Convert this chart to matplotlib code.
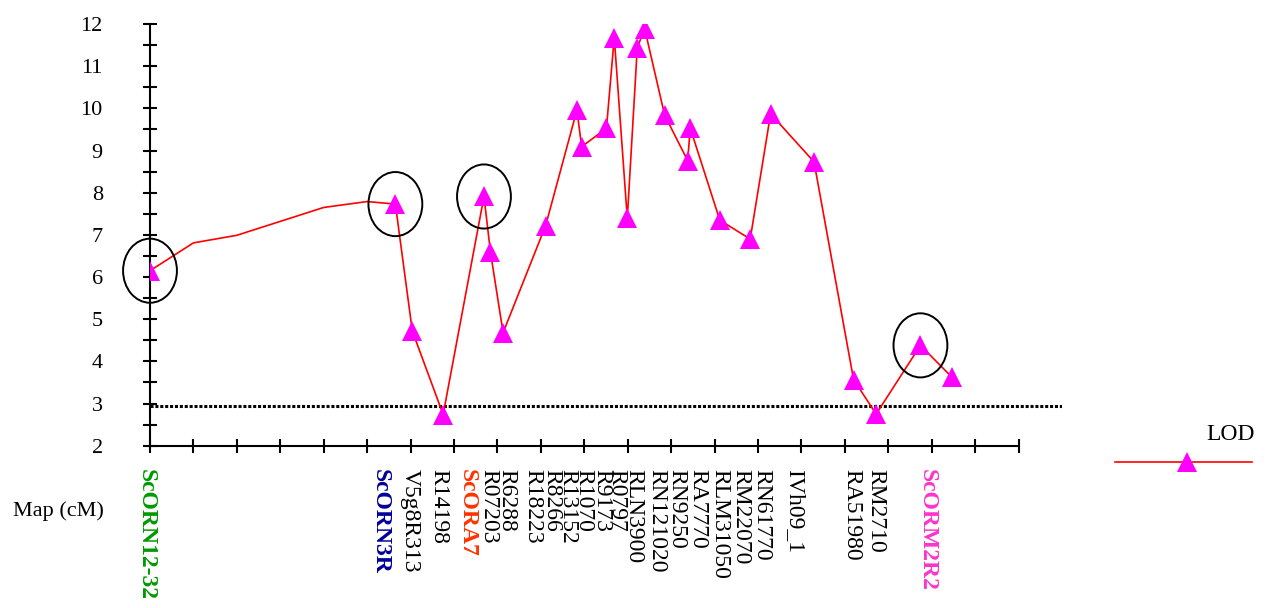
import matplotlib
matplotlib.use("Agg")
import matplotlib.pyplot as plt
from matplotlib.patches import Ellipse
from matplotlib.lines import Line2D

plt.rcParams.update({
    'font.family': 'Liberation Serif',
    'font.size':   16,
})

# LOD profile along the map (cM); the first points after 0 carry no marker
map_cm = [0, 10, 20, 40, 50, 56.5, 60.4, 67.5, 76.9, 78.4, 81.3, 91.1, 98.3, 99.4,
          105.1, 106.9, 109.9, 112.2, 113.9, 118.5, 123.8, 124.4, 131.2, 138.2,
          142.9, 152.9, 162.0, 167.2, 177.4, 184.7]
lod = [6.15, 6.81, 6.99, 7.65, 7.79, 7.73, 4.72, 2.74, 7.91, 6.59, 4.68, 7.22, 9.96,
       9.09, 9.53, 11.68, 7.39, 11.44, 11.89, 9.84, 8.76, 9.53, 7.35, 6.90, 9.87,
       8.73, 3.57, 2.75, 4.38, 3.62]
no_marker = [1, 2, 3, 4]
threshold = 2.95

# circled markers (indices into map_cm / lod)
circled = [0, 5, 8, 28]

# marker names written under the axis
marker_names = ['ScORN12-32', 'ScORN3R', 'V5g8R313', 'R14198', 'ScORA7', 'R07203',
                'R6288', 'R18223', 'R8266', 'R13152', 'R1070', 'R9173', 'R0797',
                'RLN3900', 'RN121020', 'RN9250', 'RA7770', 'RLM31050', 'RM22070',
                'RN61770', 'IVh09_1', 'RA51980', 'RM2710', 'ScORM2R2']
marker_pos = [-0.8, 53.1, 59.9, 66.4, 73.1, 78.1, 82.1, 88.1, 92.5, 96.3, 99.8,
              104.1, 107.5, 111.5, 116.7, 121.4, 126.2, 131.2, 136.0, 140.8,
              148.3, 161.6, 167.2, 179.0]
scar_colors = {'ScORN12-32': '#009900', 'ScORN3R': '#000099',
               'ScORA7': '#ff3300', 'ScORM2R2': '#ff33cc'}

LINE_COLOR = '#ff0000'
MARK_COLOR = '#ff00ff'

fig = plt.figure(figsize=(12.69, 6.08), dpi=100)
ax = fig.add_axes([0.1182, 0.2669, 0.7187, 0.6936])

shown = [i for i in range(len(map_cm)) if i not in no_marker]
ax.plot(map_cm, lod, color=LINE_COLOR, lw=1.2, marker='^', ms=14,
        markerfacecolor=MARK_COLOR, markeredgewidth=0, markevery=shown,
        zorder=3)

ax.axhline(threshold, color='black', lw=2.2, linestyle=(0, (1.0, 0.6)), zorder=2)

# circles around the SCAR markers
for i in circled:
    ax.add_patch(Ellipse((map_cm[i], lod[i]), width=12.4, height=1.52,
                         fill=False, edgecolor='black', lw=1.4,
                         clip_on=False, zorder=4))

ax.set_xlim(0, 210)
ax.set_ylim(2, 12)
ax.spines['top'].set_visible(False)
ax.spines['right'].set_visible(False)
ax.spines['left'].set_linewidth(1.5)
ax.spines['bottom'].set_linewidth(1.5)
ax.spines['bottom'].set_bounds(0, 200)

ax.set_xticks(range(0, 201, 10))
ax.set_xticklabels([])
ax.set_yticks(range(2, 13))
ax.set_yticks([y + 0.5 for y in range(2, 12)], minor=True)
ax.tick_params(axis='both', which='both', direction='inout', length=10, width=1.5)
ax.tick_params(axis='y', which='major', pad=29, labelsize=16)

# marker names under the axis
for name, pos in zip(marker_names, marker_pos):
    bold = name in scar_colors
    ax.text(pos, -0.055, name, transform=ax.get_xaxis_transform(),
            rotation=270, ha='center', va='top', fontsize=17,
            color=scar_colors.get(name, 'black'),
            fontweight='bold' if bold else 'normal')

fig.text(13 / 1269, 1 - 511 / 608, 'Map (cM)', ha='left', va='center', fontsize=16)

# legend drawn by hand: label above, line with one marker below
fig.add_artist(Line2D([1115 / 1269, 1186.7 / 1269, 1252 / 1269],
                      [1 - 462.3 / 608] * 3, transform=fig.transFigure,
                      color=LINE_COLOR, lw=1.2, marker='^', ms=14,
                      markerfacecolor=MARK_COLOR, markeredgewidth=0,
                      markevery=[1]))
fig.text(1255 / 1269, 1 - 435 / 608, 'LOD', ha='right', va='center', fontsize=17)

fig.savefig('out.png', dpi=100)
